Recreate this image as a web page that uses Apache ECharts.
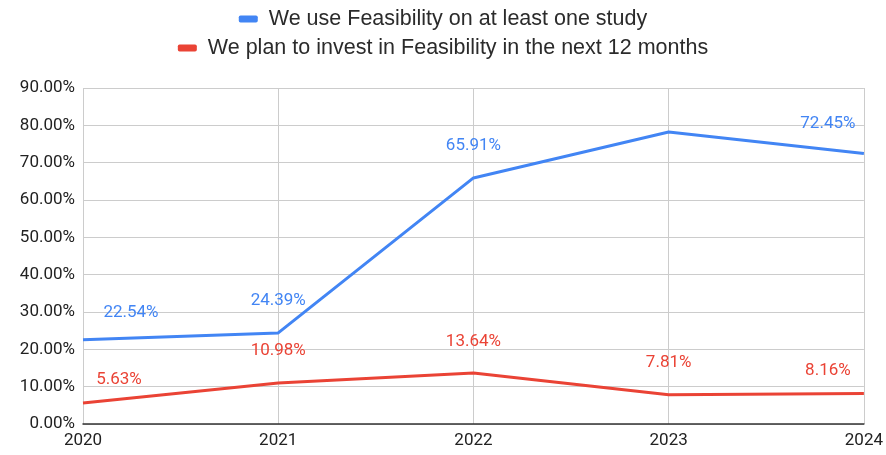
<!DOCTYPE html>
<html>
<head>
<meta charset="utf-8">
<script src="https://cdn.jsdelivr.net/npm/echarts@6/dist/echarts.min.js"></script>
<style>
  html, body { margin: 0; padding: 0; background: #fff; }
  #chart { width: 886px; height: 455px; }
</style>
</head>
<body>
<div id="chart"></div>
<script>
// Survey years and percentages
const years = ['2020', '2021', '2022', '2023', '2024'];
const useFeasibility = [22.54, 24.39, 65.91, 78.2, 72.45];
const planToInvest = [5.63, 10.98, 13.64, 7.81, 8.16];
// Which points carry a value label
const useLabelled = [true, true, true, false, true];
const investLabelled = [true, true, true, true, true];

const BLUE = '#4285f4';
const RED = '#ea4335';

// Label placement tweaks per point (pixel offsets from the default "top" spot)
const useLabelOffsets = [[48, -19], [0, -24], [0, -24], [0, 0], [-36, -21]];
const investLabelOffsets = [[36, -15], [0, -24], [0, -23], [0, -24], [-36, -14]];

function buildData(values, shown, offsets, color) {
  return values.map((v, i) => ({
    value: v,
    label: {
      show: shown[i],
      position: 'top',
      distance: 0,
      offset: offsets[i],
      color: color,
      fontSize: 17,
      fontFamily: 'Roboto',
      formatter: p => p.value.toFixed(2) + '%'
    }
  }));
}

const legendText = {
  fontSize: 21.5, color: '#2b2b2b', fontFamily: 'Liberation Sans',
  padding: [0, 0, 0, 6]
};

const chart = echarts.init(document.getElementById('chart'));
chart.setOption({
  animation: false,
  textStyle: { fontFamily: 'Roboto' },
  legend: [
    {
      top: 3, left: 'center', padding: [5, 12, 5, 0],
      data: ['We use Feasibility on at least one study'],
      icon: 'roundRect', itemWidth: 19, itemHeight: 7, itemGap: 10,
      textStyle: legendText
    },
    {
      top: 32, left: 'center', padding: [5, 12, 5, 0],
      data: ['We plan to invest in Feasibility in the next 12 months'],
      icon: 'roundRect', itemWidth: 19, itemHeight: 7, itemGap: 10,
      textStyle: legendText
    }
  ],
  grid: { left: 83, right: 22, top: 88, bottom: 31, containLabel: false },
  xAxis: {
    type: 'category',
    data: years,
    boundaryGap: false,
    axisLine: { show: true, lineStyle: { color: '#333', width: 1.5 } },
    axisTick: { show: false },
    axisLabel: { color: '#222', fontSize: 17, margin: 8,
      showMinLabel: true, showMaxLabel: true },
    splitLine: { show: true, lineStyle: { color: '#ccc', width: 1 } }
  },
  yAxis: {
    type: 'value',
    min: 0, max: 90, interval: 10,
    axisLine: { show: false },
    axisTick: { show: false },
    axisLabel: { color: '#222', fontSize: 17, margin: 8,
      formatter: v => v.toFixed(2) + '%' },
    splitLine: { lineStyle: { color: '#ccc', width: 1 } }
  },
  series: [
    {
      name: 'We use Feasibility on at least one study',
      type: 'line',
      data: buildData(useFeasibility, useLabelled, useLabelOffsets, BLUE),
      color: BLUE,
      lineStyle: { width: 3, color: BLUE },
      symbol: 'circle',
      symbolSize: 0,
      showSymbol: true,
      z: 3
    },
    {
      name: 'We plan to invest in Feasibility in the next 12 months',
      type: 'line',
      data: buildData(planToInvest, investLabelled, investLabelOffsets, RED),
      color: RED,
      lineStyle: { width: 3, color: RED },
      symbol: 'circle',
      symbolSize: 0,
      showSymbol: true,
      z: 2
    }
  ]
});
</script>
</body>
</html>
